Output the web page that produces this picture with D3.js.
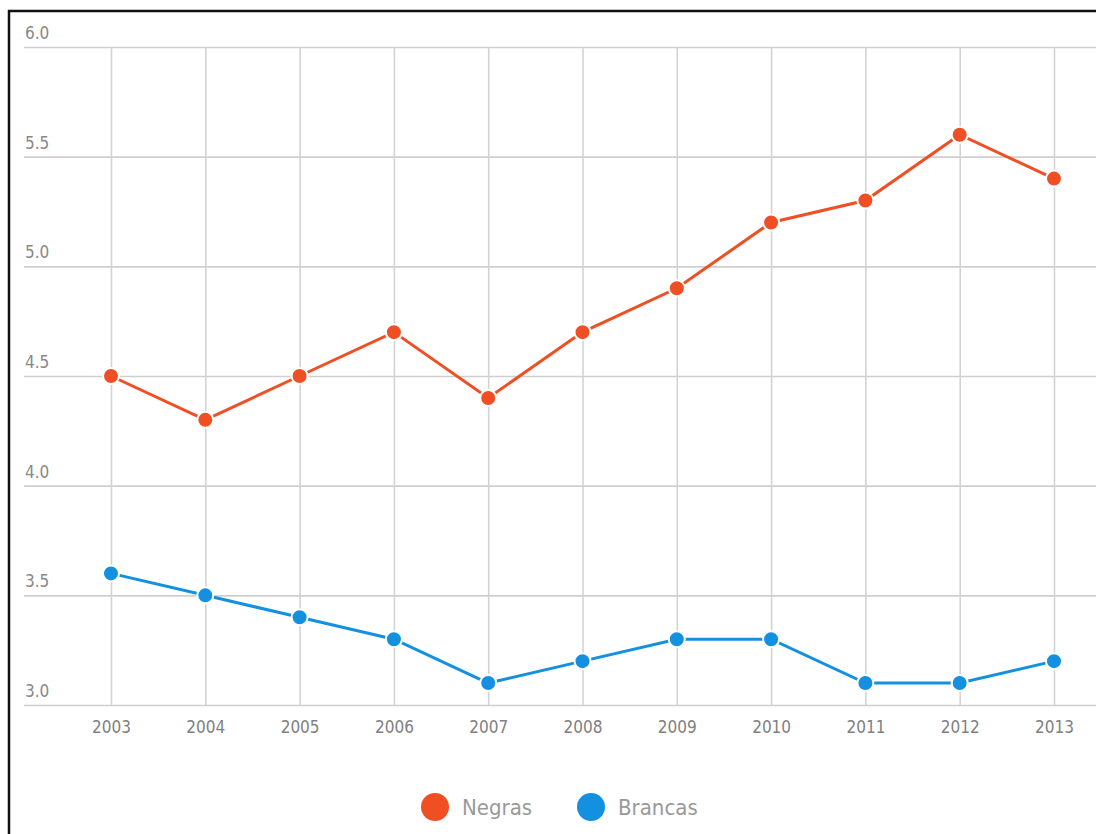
<!DOCTYPE html>
<html><head><meta charset="utf-8">
<script src="https://cdn.jsdelivr.net/npm/d3@7"></script>
<style>body{margin:0;background:#fff}svg{display:block}</style>
</head><body>
<svg id="c" width="1096" height="834"></svg>
<script>
const years = ["2003","2004","2005","2006","2007","2008","2009","2010","2011","2012","2013"];
const negras = [4.5,4.3,4.5,4.7,4.4,4.7,4.9,5.2,5.3,5.6,5.4];
const brancas = [3.6,3.5,3.4,3.3,3.1,3.2,3.3,3.3,3.1,3.1,3.2];
const yTicks = [3.0,3.5,4.0,4.5,5.0,5.5,6.0];
const seriesNames = ["Negras","Brancas"];
const colors = ["#f04e23","#1490e0"];

const svg = d3.select("#c");
const font = "'Liberation Sans Narrow','DejaVu Sans Condensed',sans-serif";
svg.append("rect").attr("x",9).attr("y",11).attr("width",1100).attr("height",840)
  .attr("fill","#fff").attr("stroke","#111").attr("stroke-width",2.5);

const x = d3.scalePoint().domain(years).range([111,1054]);
const y = d3.scaleLinear().domain([3,6]).range([705,47]);

// horizontal grid
const gy = svg.append("g").attr("transform","translate(24,0)")
  .call(d3.axisLeft(y).tickValues(yTicks).tickSize(-1080).tickFormat(""));
gy.select(".domain").remove();
gy.selectAll("line").attr("stroke","#cfcfcf").attr("stroke-width",1.6);

// vertical grid
const gx = svg.append("g").attr("transform","translate(0,705)")
  .call(d3.axisBottom(x).tickSize(-658).tickPadding(16));
gx.select(".domain").remove();
gx.selectAll("line").attr("stroke","#d3d3d3").attr("stroke-width",1.6);
gx.selectAll("text").attr("fill","#808080").attr("font-family",font).attr("font-size",17);

// y labels
svg.append("g").selectAll("text").data(yTicks).join("text")
  .attr("x",25).attr("y",d=>y(d)-8).text(d=>d.toFixed(1))
  .attr("fill","#888").attr("font-family",font).attr("font-size",17);

const data = [negras, brancas];
const line = d3.line().x((d,i)=>x(years[i])).y(d=>y(d));
data.forEach((s,k)=>{
  svg.append("path").datum(s).attr("d",line).attr("fill","none")
    .attr("stroke",colors[k]).attr("stroke-width",3);
  svg.append("g").selectAll("circle").data(s).join("circle")
    .attr("cx",(d,i)=>x(years[i])).attr("cy",d=>y(d)).attr("r",8)
    .attr("fill",colors[k]).attr("stroke","#fff").attr("stroke-width",2);
});

// legend
const lg = svg.append("g");
const lx = [435, 591];
seriesNames.forEach((n,k)=>{
  lg.append("circle").attr("cx",lx[k]).attr("cy",807).attr("r",14).attr("fill",colors[k]);
  lg.append("text").attr("x",lx[k]+27).attr("y",815).text(n)
    .attr("fill","#999").attr("font-family",font).attr("font-size",22);
});
</script>
</body></html>
